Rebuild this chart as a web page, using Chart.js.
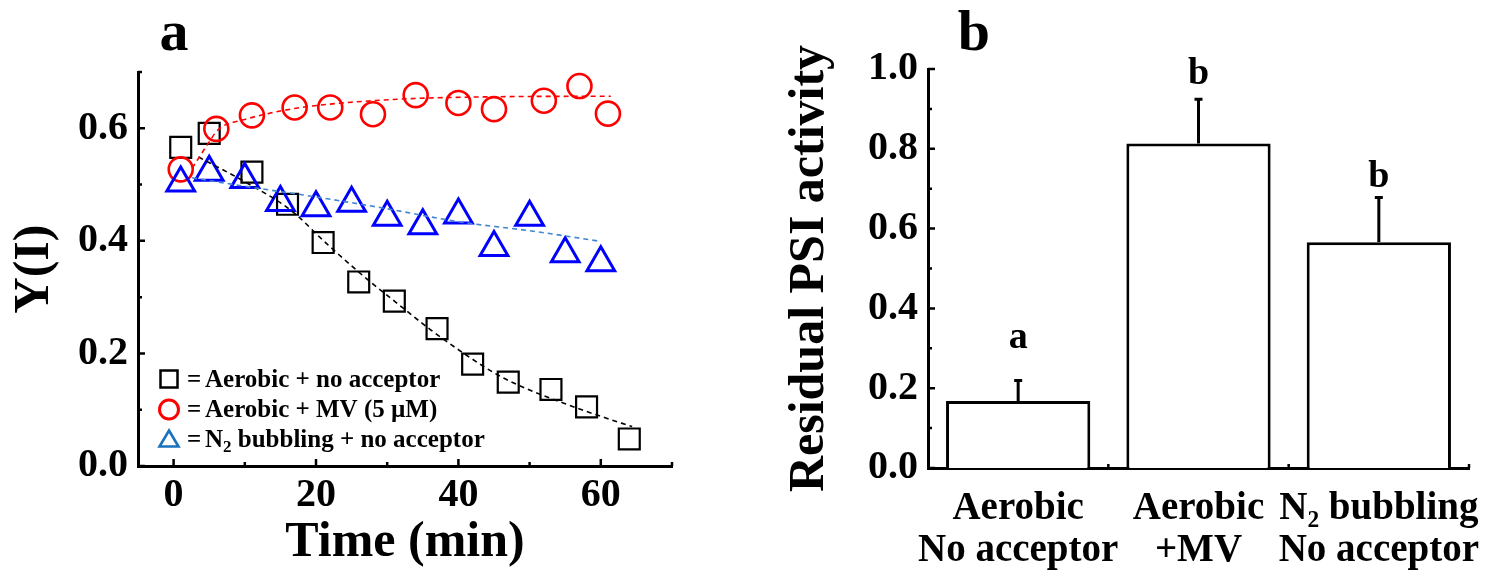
<!DOCTYPE html>
<html>
<head>
<meta charset="utf-8">
<script src="https://cdn.jsdelivr.net/npm/chart.js@4.4.1/dist/chart.umd.min.js"></script>
<style>
html, body { margin: 0; padding: 0; background: #fff; }
#wrap { position: relative; width: 1494px; height: 575px; overflow: hidden; }
#chartA { position: absolute; left: 0; top: 0; }
#chartB { position: absolute; left: 700px; top: 0; }
</style>
</head>
<body>
<div id="wrap">
  <canvas id="chartA" width="700" height="575"></canvas>
  <canvas id="chartB" width="794" height="575"></canvas>
</div>
<script>
const SERIF = "'Liberation Serif', 'Times New Roman', serif";

// ---- panel a: Y(I) vs time ----
const t_noAcc = [1, 5, 11, 16, 21, 26, 31, 37, 42, 47, 53, 58, 64];
const y_noAcc = [0.566, 0.591, 0.522, 0.465, 0.397, 0.327, 0.293, 0.244, 0.181, 0.149, 0.136, 0.105, 0.048];
const t_mv = [1, 6, 11, 17, 22, 28, 34, 40, 45, 52, 57, 61];
const y_mv = [0.527, 0.599, 0.623, 0.637, 0.637, 0.625, 0.659, 0.645, 0.634, 0.649, 0.675, 0.626];
const t_n2 = [1, 5, 10, 15, 20, 25, 30, 35, 40, 45, 50, 55, 60];
const y_n2 = [0.503, 0.522, 0.509, 0.468, 0.459, 0.467, 0.442, 0.427, 0.446, 0.388, 0.442, 0.377, 0.361];

// dashed fit curves
const fitT_noAcc = [3.5, 10, 16.4, 21.5, 26.8, 31.5, 36.1, 41, 45.5, 50, 54.9, 59.6, 64.4];
const fitY_noAcc = [0.549, 0.505, 0.455, 0.395, 0.336, 0.288, 0.242, 0.198, 0.162, 0.135, 0.111, 0.09, 0.07];
const fitT_mv = [2.6, 4.7, 6.3, 9.8, 13.6, 17.4, 22, 28, 34, 45, 61.4];
const fitY_mv = [0.529, 0.57, 0.598, 0.615, 0.627, 0.636, 0.643, 0.649, 0.653, 0.656, 0.657];
const fitT_n2 = [2.6, 10, 20, 30, 40, 50, 60];
const fitY_n2 = [0.512, 0.497, 0.478, 0.457, 0.434, 0.418, 0.399];

const xTicksA = [0, 10, 20, 30, 40, 50, 60, 70];
const xLabelsA = [0, 20, 40, 60];
const yTicksA = [0, 0.1, 0.2, 0.3, 0.4, 0.5, 0.6, 0.7];
const yLabelsA = [0, 0.2, 0.4, 0.6];

const legendTexts = ['Aerobic + no acceptor', 'Aerobic + MV (5 \u00b5M)', 'N|2| bubbling + no acceptor'];

// ---- panel b: residual PSI activity ----
const categories = [['Aerobic', 'No acceptor'], ['Aerobic', '+MV'], ['N\u2082 bubbling', 'No acceptor']];
const activity = [0.168, 0.813, 0.566];
const activityErr = [0.051, 0.111, 0.112];
const sigLetters = ['a', 'b', 'b'];
const sigLetterBase = [0.30, 0.963, 0.705];
const yTicksB = [0, 0.1, 0.2, 0.3, 0.4, 0.5, 0.6, 0.7, 0.8, 0.9, 1.0];
const yLabelsB = [0, 0.2, 0.4, 0.6, 0.8, 1.0];

const has = (arr, v) => arr.some(a => Math.abs(a - v) < 1e-9);
const pts = (xs, ys) => xs.map((x, i) => ({ x: x, y: ys[i] }));

// inward tick marks
const tickMarks = {
  id: 'tickMarks',
  afterDraw(chart, args, opts) {
    const ctx = chart.ctx;
    const area = chart.chartArea;
    ctx.save();
    ctx.strokeStyle = '#000';
    ctx.lineWidth = 2.5;
    ctx.beginPath();
    const xs = chart.scales.x;
    if (opts.xValues) {
      opts.xValues.forEach(v => {
        const px = xs.getPixelForValue(v);
        const len = has(opts.xMajor, v) ? 7 : 4;
        ctx.moveTo(px, area.bottom);
        ctx.lineTo(px, area.bottom - len);
      });
    } else {
      // category axis: small ticks on category boundaries
      const hw = (xs.getPixelForValue(1) - xs.getPixelForValue(0)) / 2;
      for (let i = 0; i < xs.ticks.length; i++) {
        const px = xs.getPixelForValue(i) + hw;
        ctx.moveTo(px, area.bottom);
        ctx.lineTo(px, area.bottom - 4);
      }
    }
    const ys = chart.scales.y;
    opts.yValues.forEach(v => {
      const py = ys.getPixelForValue(v);
      const len = has(opts.yMajor, v) ? 7 : 4;
      ctx.moveTo(area.left, py);
      ctx.lineTo(area.left + len, py);
    });
    ctx.stroke();
    ctx.restore();
  }
};

// panel letter + in-plot legend for panel a
const panelA = {
  id: 'panelA',
  afterDraw(chart) {
    const ctx = chart.ctx;
    const area = chart.chartArea;
    ctx.save();
    ctx.fillStyle = '#000';
    ctx.font = 'bold 58px ' + SERIF;
    ctx.textAlign = 'center';
    ctx.textBaseline = 'alphabetic';
    ctx.fillText('a', 174, 50);

    const mx = area.left + 31, tx = area.left + 49;
    const rows = [area.bottom - 79, area.bottom - 49.5, area.bottom - 19.5];
    // markers
    ctx.lineWidth = 2.5;
    ctx.strokeStyle = '#000';
    ctx.strokeRect(mx - 8.5, rows[0] - 16.5, 17, 17);
    ctx.strokeStyle = '#ff0000';
    ctx.lineWidth = 3;
    ctx.beginPath();
    ctx.arc(mx, rows[1] - 7, 9.5, 0, Math.PI * 2);
    ctx.stroke();
    ctx.strokeStyle = '#1a72bb';
    ctx.lineWidth = 2.6;
    ctx.beginPath();
    ctx.moveTo(mx, rows[2] - 16);
    ctx.lineTo(mx + 9.5, rows[2]);
    ctx.lineTo(mx - 9.5, rows[2]);
    ctx.closePath();
    ctx.stroke();

    // texts
    ctx.textAlign = 'left';
    legendTexts.forEach((txt, i) => {
      ctx.font = 'bold 25px ' + SERIF;
      ctx.fillText('=', tx, rows[i]);
      let x = tx + 18;
      txt.split('|').forEach((part, k) => {
        if (k % 2 === 1) {
          ctx.font = 'bold 17px ' + SERIF;
          ctx.fillText(part, x, rows[i] + 5);
          x += ctx.measureText(part).width;
          ctx.font = 'bold 25px ' + SERIF;
        } else {
          ctx.fillText(part, x, rows[i]);
          x += ctx.measureText(part).width;
        }
      });
    });
    ctx.restore();
  }
};

const lineSet = (xs, ys, color) => ({
  data: pts(xs, ys),
  showLine: true,
  borderColor: color,
  borderWidth: 1.6,
  borderDash: [5, 4],
  pointRadius: 0,
  cubicInterpolationMode: 'monotone',
  fill: false
});
const markerSet = (xs, ys, style, r, color, bw) => ({
  data: pts(xs, ys),
  showLine: false,
  pointStyle: style,
  pointRadius: r,
  borderColor: color,
  borderWidth: bw,
  backgroundColor: 'rgba(0,0,0,0)'
});

new Chart(document.getElementById('chartA'), {
  type: 'scatter',
  data: {
    datasets: [
      lineSet(fitT_n2, fitY_n2, '#3f86cf'),
      lineSet(fitT_mv, fitY_mv, '#ff0000'),
      lineSet(fitT_noAcc, fitY_noAcc, '#000000'),
      markerSet(t_n2, y_n2, 'triangle', 16, '#0000ff', 3),
      markerSet(t_mv, y_mv, 'circle', 12, '#ff0000', 2.6),
      markerSet(t_noAcc, y_noAcc, 'rect', 14.8, '#000000', 2.2)
    ]
  },
  options: {
    responsive: false,
    animation: false,
    clip: false,
    layout: { padding: { top: 72, right: 28, left: 0, bottom: 0 } },
    plugins: {
      legend: { display: false },
      tooltip: { enabled: false },
      tickMarks: { xValues: xTicksA, xMajor: xLabelsA, yValues: yTicksA, yMajor: yLabelsA }
    },
    scales: {
      x: {
        type: 'linear',
        min: -5,
        max: 70,
        afterBuildTicks: s => { s.ticks = xTicksA.map(v => ({ value: v })); },
        afterFit: s => { s.height = 109; s.paddingLeft = 0; s.paddingRight = 0; },
        grid: { display: false, drawTicks: false },
        border: { display: true, color: '#000', width: 3 },
        ticks: {
          autoSkip: false,
          maxRotation: 0,
          padding: 6,
          color: '#000',
          font: { family: SERIF, size: 40, weight: 'bold' },
          callback: v => has(xLabelsA, v) ? String(v) : ''
        },
        title: {
          display: true,
          text: 'Time (min)',
          color: '#000',
          font: { family: SERIF, size: 50, weight: 'bold' },
          padding: { top: 0, bottom: 2 }
        }
      },
      y: {
        min: 0,
        max: 0.7,
        afterBuildTicks: s => { s.ticks = yTicksA.map(v => ({ value: v })); },
        afterFit: s => { s.width = 138; },
        grid: { display: false, drawTicks: false },
        border: { display: true, color: '#000', width: 3 },
        ticks: {
          autoSkip: false,
          padding: 10,
          color: '#000',
          font: { family: SERIF, size: 40, weight: 'bold' },
          callback: v => has(yLabelsA, v) ? v.toFixed(1) : ''
        },
        title: {
          display: true,
          text: 'Y(I)',
          color: '#000',
          font: { family: SERIF, size: 50, weight: 'bold' },
          padding: { top: 5, bottom: 0 }
        }
      }
    }
  },
  plugins: [tickMarks, panelA]
});

// error bars, significance letters and panel letter for b
const panelB = {
  id: 'panelB',
  afterDatasetsDraw(chart) {
    const ctx = chart.ctx;
    const ys = chart.scales.y;
    const meta = chart.getDatasetMeta(0);
    ctx.save();
    ctx.strokeStyle = '#000';
    ctx.lineWidth = 3;
    meta.data.forEach((bar, i) => {
      const top = ys.getPixelForValue(activity[i] + activityErr[i]);
      ctx.beginPath();
      ctx.moveTo(bar.x, bar.y);
      ctx.lineTo(bar.x, top);
      ctx.moveTo(bar.x - 4, top);
      ctx.lineTo(bar.x + 4, top);
      ctx.stroke();
    });
    ctx.fillStyle = '#000';
    ctx.font = 'bold 38px ' + SERIF;
    ctx.textAlign = 'center';
    ctx.textBaseline = 'alphabetic';
    meta.data.forEach((bar, i) => {
      ctx.fillText(sigLetters[i], bar.x, ys.getPixelForValue(sigLetterBase[i]));
    });
    ctx.font = 'bold 58px ' + SERIF;
    ctx.fillText('b', 274, 50);
    ctx.restore();
  }
};

new Chart(document.getElementById('chartB'), {
  type: 'bar',
  data: {
    labels: categories,
    datasets: [{
      data: activity,
      backgroundColor: '#ffffff',
      borderColor: '#000000',
      borderWidth: 3,
      barPercentage: 0.8,
      categoryPercentage: 1
    }]
  },
  options: {
    responsive: false,
    animation: false,
    layout: { padding: { top: 69, right: 25, left: 0, bottom: 0 } },
    plugins: {
      legend: { display: false },
      tooltip: { enabled: false },
      tickMarks: { yValues: yTicksB, yMajor: yLabelsB }
    },
    scales: {
      x: {
        afterFit: s => { s.height = 107; s.paddingLeft = 0; s.paddingRight = 0; },
        grid: { display: false, drawTicks: false },
        border: { display: true, color: '#000', width: 3 },
        ticks: {
          autoSkip: false,
          maxRotation: 0,
          padding: 20,
          color: '#000',
          font: { family: SERIF, size: 39, weight: 'bold', lineHeight: 1.08 }
        }
      },
      y: {
        min: 0,
        max: 1.0,
        afterBuildTicks: s => { s.ticks = yTicksB.map(v => ({ value: v })); },
        afterFit: s => { s.width = 228; },
        grid: { display: false, drawTicks: false },
        border: { display: true, color: '#000', width: 3 },
        ticks: {
          autoSkip: false,
          padding: 10,
          color: '#000',
          font: { family: SERIF, size: 40, weight: 'bold' },
          callback: v => has(yLabelsB, v) ? v.toFixed(1) : ''
        },
        title: {
          display: true,
          text: 'Residual PSI activity',
          color: '#000',
          font: { family: SERIF, size: 50, weight: 'bold' },
          padding: { top: 80, bottom: 0 }
        }
      }
    }
  },
  plugins: [tickMarks, panelB]
});
</script>
</body>
</html>
